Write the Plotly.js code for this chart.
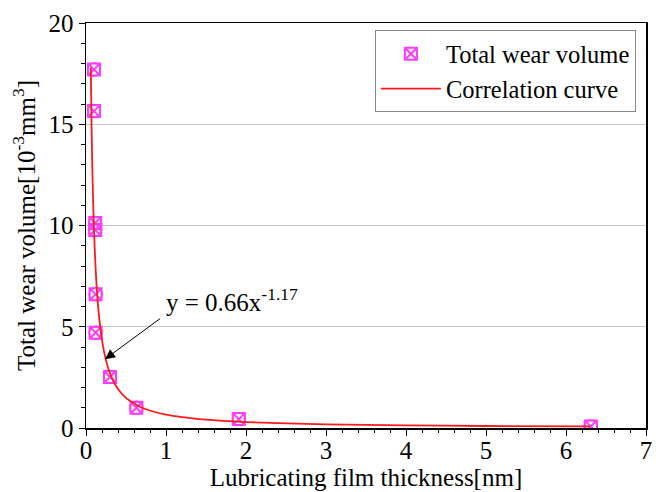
<!DOCTYPE html>
<html>
<head>
<meta charset="utf-8">
<script src="https://cdn.plot.ly/plotly-3.0.1.min.js"></script>
<style>html,body{margin:0;padding:0;background:#fff;}#chart{width:663px;height:492px;}</style>
</head>
<body>
<div id="chart"></div>
<script>
// Measured data points
const filmThickness = [0.10, 0.10, 0.115, 0.115, 0.12, 0.12, 0.30, 0.63, 1.91, 6.31];
const wearVolume    = [17.7, 15.65, 10.12, 9.78, 6.6, 4.7, 2.52, 1.0, 0.44, 0.08];

// Correlation curve, points
const curveX = [0.06, 0.07, 0.08, 0.09, 0.10, 0.12, 0.15, 0.20, 0.25, 0.30, 0.40, 0.50, 0.70, 1.0, 1.5, 2.0, 3.0, 4.0, 5.0, 6.3];
const curveY = [17.8, 14.8, 12.7, 11.1, 9.76, 7.89, 6.07, 4.34, 3.34, 2.70, 1.93, 1.49, 1.00, 0.66, 0.41, 0.29, 0.18, 0.13, 0.10, 0.077];

const seriesNames = ['Total wear volume', 'Correlation curve'];
const fitText = 'y = 0.66x<sup>-1.17</sup>';
const xTitle = 'Lubricating film thickness[nm]';
const yTitle = 'Total wear volume[10<sup>-3</sup>mm<sup>3</sup>]';

const FONT = '"Liberation Serif", "Times New Roman", Times, serif';
const MAG = '#ff3cff';

const traces = [
  {
    x: filmThickness, y: wearVolume, type: 'scatter', mode: 'markers',
    name: seriesNames[0],
    marker: {symbol: 'square-x-open', size: 12, color: MAG, line: {color: MAG, width: 2}}
  },
  {
    x: filmThickness, y: wearVolume, type: 'scatter', mode: 'markers',
    showlegend: false, hoverinfo: 'skip',
    marker: {symbol: 'circle-open', size: 13, color: MAG, line: {color: MAG, width: 1.5}}
  },
  {
    x: curveX, y: curveY, type: 'scatter', mode: 'lines',
    name: seriesNames[1],
    line: {color: '#ff1a1a', width: 1.8, shape: 'spline', smoothing: 0.6}
  }
];

const layout = {
  width: 663, height: 492,
  margin: {l: 86, r: 17, t: 23, b: 64, pad: 0},
  paper_bgcolor: '#ffffff', plot_bgcolor: '#ffffff',
  font: {family: FONT, color: '#000', size: 24},
  showlegend: true,
  legend: {
    x: 0.982, y: 0.982, xanchor: 'right', yanchor: 'top',
    bgcolor: '#ffffff', bordercolor: '#888888', borderwidth: 1,
    font: {family: FONT, size: 24.5, color: '#000'},
    tracegroupgap: 0, itemwidth: 60
  },
  xaxis: {
    range: [0, 7], tick0: 0, dtick: 1,
    showline: true, linecolor: '#000', linewidth: 1.5, mirror: true,
    ticks: 'outside', ticklen: 6, tickwidth: 1, tickcolor: '#000',
    minor: {dtick: 0.2, ticks: 'outside', ticklen: 3.5, tickwidth: 1, tickcolor: '#000', showgrid: false},
    showgrid: false, zeroline: false,
    ticklabelstandoff: -7,
    tickfont: {family: FONT, size: 25, color: '#000'},
    title: {text: xTitle, font: {family: FONT, size: 25, color: '#000'}, standoff: 0},
    automargin: false
  },
  yaxis: {
    range: [0, 20], tick0: 0, dtick: 5,
    showline: true, linecolor: '#000', linewidth: 1.5, mirror: true,
    ticks: 'outside', ticklen: 6, tickwidth: 1, tickcolor: '#000',
    minor: {dtick: 1, ticks: 'outside', ticklen: 3.5, tickwidth: 1, tickcolor: '#000', showgrid: false},
    showgrid: true, gridcolor: '#c8c8c8', gridwidth: 1, zeroline: false,
    tickfont: {family: FONT, size: 25, color: '#000'},
    title: {text: yTitle, font: {family: FONT, size: 25, color: '#000'}, standoff: 6},
    automargin: false
  },
  annotations: [
    {
      x: 0.2375, y: 3.4, xref: 'x', yref: 'y',
      ax: 0.946, ay: 5.46, axref: 'x', ayref: 'y',
      text: '', showarrow: true, arrowhead: 2, arrowsize: 2, arrowwidth: 1, arrowcolor: '#000'
    },
    {
      x: 0.975, y: 6.3, xref: 'x', yref: 'y', xanchor: 'left', yanchor: 'middle',
      text: fitText, showarrow: false,
      font: {family: FONT, size: 25, color: '#000'}
    }
  ]
};

Plotly.newPlot('chart', traces, layout, {displayModeBar: false, staticPlot: true});
</script>
</body>
</html>
